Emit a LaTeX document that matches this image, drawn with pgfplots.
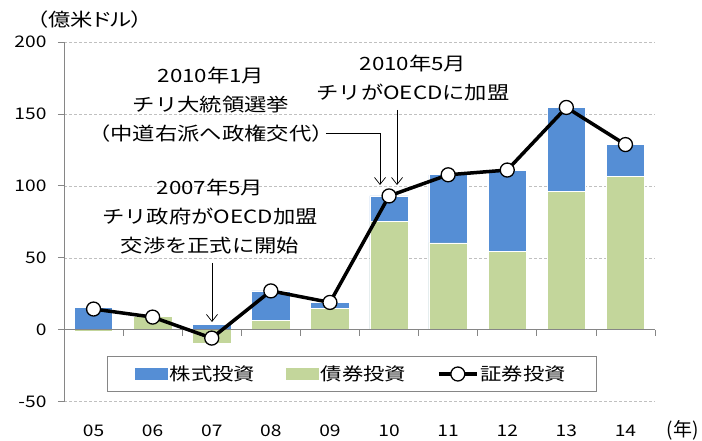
\documentclass[border=0pt]{standalone}
\usepackage{pgfplots}
\pgfplotsset{compat=1.18}
\usepackage{fontspec}
\setmainfont{Noto Sans CJK JP}[FakeStretch=1.22]
\newfontfamily\tickfont{Noto Sans CJK JP}[FakeStretch=1.2]
\newfontfamily\paltfont{Noto Sans CJK JP}[FakeStretch=1.22, RawFeature=+palt]
\newfontfamily\plainjp{Noto Sans CJK JP}
\usetikzlibrary{arrows.meta}
\definecolor{eqblue}{RGB}{85,142,213}
\definecolor{bdgreen}{RGB}{195,214,155}
\definecolor{axgray}{RGB}{134,134,134}
\definecolor{gridgray}{RGB}{192,192,192}
\newcommand{\annfont}{\fontsize{18.3}{29}\selectfont}
\begin{document}
\begin{tikzpicture}[x=1pt,y=1pt]
\useasboundingbox (0,0) rectangle (702,441);
\begin{axis}[
  at={(64pt,39.3pt)}, anchor=south west,
  scale only axis, width=591pt, height=359.7pt,
  xmin=-0.5, xmax=9.5, ymin=-50, ymax=200,
  clip=false,
  ytick={-50,0,50,100,150,200},
  yticklabels={-50,0,50,100,150,200},
  xtick={0,...,9},
  xticklabels={05,06,07,08,09,10,11,12,13,14},
  axis x line*=bottom, axis y line*=left,
  x axis line style={draw=none},
  y axis line style={draw=axgray, line width=0.8pt, -},
  xtick style={draw=none},
  ytick style={draw=axgray, line width=0.8pt},
  tick align=outside, major tick length=6pt,
  ymajorgrids,
  grid style={gridgray, dash pattern=on 3pt off 2pt, line width=0.6pt},
  ticklabel style={font=\tickfont\fontsize{16}{16}\selectfont, text=black},
  /pgf/number format/assume math mode=true,
  yticklabel style={xshift=-8pt},
  xticklabel style={yshift=-14pt},
  legend columns=3,
  legend style={at={(0.4865,0.077)}, anchor=center, draw=axgray, line width=0.8pt,
    fill=white, font=\fontsize{17.5}{17.5}\selectfont, inner xsep=28pt, inner ysep=7pt,
    /tikz/every even column/.append style={column sep=29pt}},
]
\addplot[ybar, bar width=0.65, bar shift=0pt, fill=eqblue, draw=white, line width=0.6pt,
  legend image code/.code={\fill[eqblue] (0pt,-5.5pt) rectangle (32pt,5.5pt);}]
  coordinates {(0,15.8)(1,-0.5)(2,3.5)(3,27)(4,19)(5,93)(6,107.7)(7,111)(8,154.5)(9,128.7)};
\addlegendentry{株式投資}
\addplot[ybar, bar width=0.65, bar shift=0pt, fill=bdgreen, draw=white, line width=0.6pt,
  legend image code/.code={\fill[bdgreen] (0pt,-5.5pt) rectangle (32pt,5.5pt);}]
  coordinates {(0,-1.4)(1,9.3)(2,-9.3)(3,6.5)(4,15.1)(5,75.5)(6,60.4)(7,54.6)(8,96)(9,106.5)};
\addlegendentry{債券投資}
\draw[axgray, line width=0.8pt] (axis cs:-0.5,0) -- (axis cs:9.5,0);
\pgfplotsinvokeforeach{0.5,1.5,...,9.5}{\draw[axgray, line width=0.8pt] (axis cs:#1,0) -- ([yshift=-6pt]axis cs:#1,0);}
\addplot[black, line width=3.5pt, mark=*, mark size=7pt,
  mark options={fill=white, draw=black, line width=1.3pt},
  legend image code/.code={\draw[black, line width=3.5pt] (0pt,0pt) -- (38pt,0pt);
    \draw[black, fill=white, line width=1.3pt] (19pt,0pt) circle (7pt);}]
  coordinates {(0,14.4)(1,8.8)(2,-5.8)(3,27)(4,19)(5,93)(6,107.7)(7,111)(8,154.5)(9,128.7)};
\addlegendentry{証券投資}
% annotations
\node[align=center, font=\annfont] at (axis cs:1.987,156.2) {2010年1月\\チリ大統領選挙\\（中道右派へ政権交代）};
\draw[black, line width=0.7pt, -{Straight Barb[length=7pt,width=11pt]}] (axis cs:3.93,136.8) -- (axis cs:4.847,136.8) -- (axis cs:4.847,100.6);
\node[align=center, font=\annfont] at (axis cs:5.405,175) {2010年5月\\チリがOECDに加盟};
\draw[black, line width=0.7pt, -{Straight Barb[length=7pt,width=11pt]}] (axis cs:5.135,152.9) -- (axis cs:5.135,100.6);
\node[align=center, font=\annfont] at (axis cs:1.97,78.5) {2007年5月\\チリ政府がOECD加盟\\交渉を正式に開始};
\draw[black, line width=0.7pt, -{Straight Barb[length=7pt,width=11pt]}] (axis cs:2.004,46.4) -- (axis cs:2.004,5.4);
\end{axis}
\node[font=\paltfont\fontsize{18.3}{20}\selectfont] at (90,421) {（億米ドル）};
\node[font=\plainjp\fontsize{19}{20}\selectfont, anchor=east, inner sep=0pt] at (699,11) {(年)};
\end{tikzpicture}
\end{document}
